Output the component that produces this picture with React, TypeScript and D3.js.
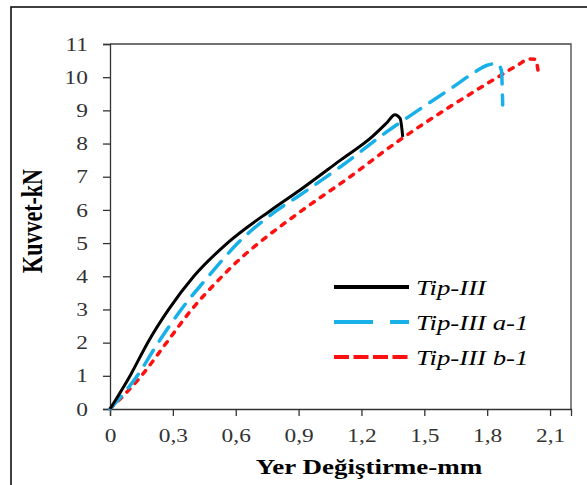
import React, { useEffect, useRef } from "react";
import * as d3 from "d3";

// series names (legend)
const seriesNames = ["Tip-III", "Tip-III a-1", "Tip-III b-1"];

// Tip-III (displacement mm, force kN)
const tipX = [0, 0.1, 0.18, 0.28, 0.4, 0.56, 0.77, 0.907, 1.1, 1.25, 1.32, 1.36, 1.385, 1.397];
const tipY = [0, 1.05, 2, 3, 4, 5, 6, 6.6, 7.5, 8.2, 8.62, 8.87, 8.75, 8.2];

// Tip-III a-1
const aX = [0, 0.13, 0.23, 0.34, 0.47, 0.61, 0.8, 0.9, 1.1, 1.32, 1.47, 1.65, 1.74, 1.8, 1.85, 1.868, 1.874];
const aY = [0, 1, 2, 3, 4, 5, 6, 6.42, 7.3, 8.35, 9, 9.76, 10.15, 10.36, 10.41, 10.2, 9.16];

// Tip-III b-1
const bX = [0, 0.15, 0.27, 0.39, 0.52, 0.625, 0.7, 0.92, 1.146, 1.37, 1.62, 1.85, 1.95, 2.0, 2.03, 2.045];
const bY = [0, 1, 2, 3, 3.9, 4.55, 4.95, 6, 7, 8.05, 9.1, 10.0, 10.38, 10.55, 10.54, 10.1];

// axis ticks
const xTicks = [0, 0.3, 0.6, 0.9, 1.2, 1.5, 1.8, 2.1];
const yTicks = [0, 1, 2, 3, 4, 5, 6, 7, 8, 9, 10, 11];

const App = () => {
  const ref = useRef<SVGSVGElement>(null);

  useEffect(() => {
    const svg = d3.select(ref.current);
    svg.selectAll("*").remove();

    const left = 110, right = 571, top = 44, bottom = 409;
    const sx = 1.3; // text in the picture is stretched sideways

    const x = d3.scaleLinear().domain([0, 2.2]).range([left, right]);
    const y = d3.scaleLinear().domain([0, 11]).range([bottom, top]);

    // outer frame
    svg.append("rect")
      .attr("x", 11).attr("y", 7)
      .attr("width", 620).attr("height", 520)
      .attr("fill", "none").attr("stroke", "#111").attr("stroke-width", 1.6);

    // plot area border (top and right)
    svg.append("path")
      .attr("d", `M${left},${top}H${right}V${bottom}`)
      .attr("fill", "none").attr("stroke", "#444").attr("stroke-width", 1.3);

    const fmt = (d: number) => (d === 0 ? "0" : d3.format(".1f")(d).replace(".", ","));

    // x axis
    const gx = svg.append("g")
      .attr("transform", `translate(0,${bottom})`)
      .call(d3.axisBottom(x).tickValues(xTicks).tickFormat(fmt as any).tickSizeOuter(0).tickSize(7));
    gx.select(".domain").attr("stroke", "#333").attr("stroke-width", 1.3);
    gx.selectAll(".tick line").attr("stroke", "#333").attr("stroke-width", 1.3);
    gx.selectAll(".tick text")
      .attr("x", 0).attr("y", 0).attr("dy", 0)
      .attr("transform", `translate(0,33) scale(${sx},1)`)
      .attr("fill", "#333")
      .style("font-family", "'Liberation Serif', 'Times New Roman', serif")
      .style("font-size", "18px");

    // y axis
    const gy = svg.append("g")
      .attr("transform", `translate(${left},0)`)
      .call(d3.axisLeft(y).tickValues(yTicks).tickFormat(d3.format("d") as any).tickSizeOuter(0).tickSize(7));
    gy.select(".domain").attr("stroke", "#333").attr("stroke-width", 1.3);
    gy.selectAll(".tick line").attr("stroke", "#333").attr("stroke-width", 1.3);
    gy.selectAll(".tick text")
      .attr("x", 0).attr("dy", "0.34em")
      .attr("transform", `translate(-22,0) scale(${sx},1)`)
      .attr("fill", "#333")
      .style("font-family", "'Liberation Serif', 'Times New Roman', serif")
      .style("font-size", "18px");

    // axis titles
    svg.append("text")
      .attr("transform", `translate(369,474) scale(1.35,1)`)
      .attr("text-anchor", "middle")
      .style("font-family", "'Liberation Serif', 'Times New Roman', serif")
      .style("font-weight", "bold")
      .style("font-size", "20px")
      .text("Yer Değiştirme-mm");

    svg.append("text")
      .attr("transform", `translate(42,221) scale(1.3,1) rotate(-90)`)
      .attr("text-anchor", "middle")
      .style("font-family", "'Liberation Serif', 'Times New Roman', serif")
      .style("font-weight", "bold")
      .style("font-size", "22px")
      .text("Kuvvet-kN");

    // series lines
    const line = d3.line<[number, number]>()
      .x(d => x(d[0]))
      .y(d => y(d[1]))
      .curve(d3.curveMonotoneX);

    const series = [
      { xs: tipX, ys: tipY, color: "#000000", width: 3, dash: null, cap: "butt" },
      { xs: aX, ys: aY, color: "#17b0e8", width: 3.5, dash: "17,11", cap: "round" },
      { xs: bX, ys: bY, color: "#ff1010", width: 3.5, dash: "4.5,7.5", cap: "round" },
    ];

    // draw b-1 first, then a-1, then Tip-III on top
    [2, 1, 0].forEach(i => {
      const s = series[i];
      const pts = s.xs.map((v, k) => [v, s.ys[k]] as [number, number]);
      svg.append("path")
        .datum(pts)
        .attr("d", line)
        .attr("fill", "none")
        .attr("stroke", s.color)
        .attr("stroke-width", s.width)
        .attr("stroke-linecap", s.cap)
        .attr("stroke-linejoin", "round")
        .attr("stroke-dasharray", s.dash);
    });

    // legend
    const legendDash = [null, "39,17", "15,4.5"];
    const legendY = [287, 322, 357];
    seriesNames.forEach((name, i) => {
      svg.append("line")
        .attr("x1", 334).attr("x2", 409)
        .attr("y1", legendY[i]).attr("y2", legendY[i])
        .attr("stroke", series[i].color)
        .attr("stroke-width", 3.8)
        .attr("stroke-dasharray", legendDash[i]);
      svg.append("text")
        .attr("transform", `translate(416,${legendY[i] + 8}) scale(1.22,1)`)
        .style("font-family", "'Liberation Serif', 'Times New Roman', serif")
        .style("font-style", "italic")
        .style("font-size", "22px")
        .text(name);
    });
  }, []);

  return (
    <svg
      ref={ref}
      width={587}
      height={485}
      style={{ position: "absolute", left: 0, top: 0, background: "#fff" }}
    />
  );
};

export default App;
